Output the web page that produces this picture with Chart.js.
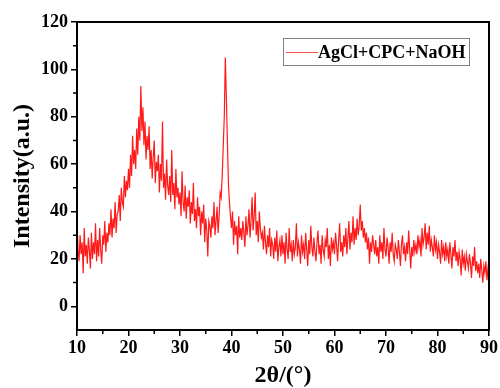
<!DOCTYPE html>
<html>
<head>
<meta charset="utf-8">
<script src="https://cdn.jsdelivr.net/npm/chart.js@4/dist/chart.umd.min.js"></script>
<style>
  html, body { margin: 0; padding: 0; background: #fff; }
  #wrap { width: 500px; height: 388px; position: relative; }
</style>
</head>
<body>
<div id="wrap"><canvas id="xrd"></canvas></div>
<script>
// ── Data (2θ from 10° to 90°, step 0.2°) ──
const seriesName = 'AgCl+CPC+NaOH';
const angleStart = 10;
const angleStep  = 0.2;
const intensity = [
  38, 24, 19, 30, 22, 27, 14, 33, 21, 26,   // 10
  18, 29, 24, 16, 31, 20, 27, 22, 35, 19,   // 12
  28, 21, 33, 24, 18, 30, 26, 36, 23, 31,   // 14
  27, 35, 30, 41, 29, 37, 33, 44, 31, 39,   // 16
  40, 47, 36, 50, 44, 42, 55, 46, 53, 49,   // 18
  58, 50, 64, 55, 72, 60, 66, 58, 75, 64,   // 20
  80, 70, 93, 74, 84, 68, 78, 62, 72, 66,   // 22
  76, 58, 66, 54, 63, 70, 52, 61, 57, 64,   // 24
  48, 60, 53, 78, 50, 56, 45, 62, 51, 47,   // 26
  55, 44, 66, 47, 52, 41, 58, 46, 50, 43,   // 28
  48, 38, 57, 44, 40, 51, 37, 46, 42, 49,   // 30
  35, 44, 39, 52, 36, 41, 33, 46, 38, 42,   // 32
  30, 40, 35, 43, 27, 37, 32, 21, 36, 34,   // 34
  29, 38, 33, 44, 30, 36, 42, 31, 38, 48,   // 36
  46, 55, 68, 80, 105, 88, 70, 52, 44, 38,  // 38
  33, 40, 26, 36, 30, 34, 22, 38, 29, 33,   // 40
  28, 36, 31, 25, 38, 30, 34, 41, 29, 36,   // 42
  46, 32, 38, 48, 30, 36, 27, 40, 33, 29,   // 44
  31, 24, 34, 27, 22, 30, 25, 33, 21, 28,   // 46
  26, 20, 29, 23, 32, 19, 25, 28, 21, 30,   // 48
  22, 27, 18, 31, 24, 20, 33, 23, 26, 19,   // 50
  28, 22, 25, 35, 21, 27, 24, 18, 30, 23,   // 52
  26, 20, 31, 24, 17, 28, 22, 34, 25, 21,   // 54
  29, 23, 19, 27, 32, 22, 26, 18, 30, 24,   // 56
  21, 28, 25, 33, 20, 26, 17, 29, 24, 27,   // 58
  22, 31, 26, 19, 28, 35, 23, 27, 21, 30,   // 60
  25, 33, 22, 29, 36, 24, 31, 27, 38, 26,   // 62
  33, 28, 37, 30, 34, 43, 32, 36, 29, 33,   // 64
  27, 31, 24, 29, 18, 27, 23, 30, 26, 22,   // 66
  28, 21, 25, 18, 30, 23, 27, 20, 33, 24,   // 68
  21, 29, 25, 18, 27, 23, 31, 22, 19, 26,   // 70
  24, 20, 28, 23, 17, 26, 30, 22, 25, 19,   // 72
  27, 22, 32, 24, 16, 25, 21, 28, 23, 26,   // 74
  22, 30, 25, 28, 21, 33, 26, 29, 35, 24,   // 76
  31, 26, 34, 23, 28, 25, 21, 30, 24, 27,   // 78
  20, 26, 23, 18, 28, 22, 25, 19, 27, 21,   // 80
  24, 18, 27, 22, 16, 25, 21, 28, 19, 23,   // 82
  17, 23, 20, 13, 24, 18, 21, 15, 22, 19,   // 84
  16, 22, 18, 12, 21, 17, 25, 15, 19, 14,   // 86
  18, 12, 20, 15, 10, 17, 14, 19, 11, 16,   // 88
  13                                        // 90
];

const xMajorTicks = [10, 20, 30, 40, 50, 60, 70, 80, 90];
const xMinorTicks = [15, 25, 35, 45, 55, 65, 75, 85];
const yMajorTicks = [0, 20, 40, 60, 80, 100, 120];
const yMinorTicks = [10, 30, 50, 70, 90, 110];

const points = intensity.map((v, i) => ({ x: angleStart + i * angleStep, y: v }));

const SERIF = "'Liberation Serif', 'Times New Roman', serif";

// ── Plugins: frame box + minor ticks, legend box in the corner ──
const framePlugin = {
  id: 'frame',
  afterDraw(chart) {
    const { ctx, chartArea: a, scales } = chart;
    ctx.save();
    ctx.strokeStyle = '#000';
    ctx.lineWidth = 2;
    ctx.strokeRect(a.left, a.top, a.right - a.left, a.bottom - a.top);

    ctx.lineWidth = 1.5;
    ctx.beginPath();
    xMinorTicks.forEach(v => {
      const px = scales.x.getPixelForValue(v);
      ctx.moveTo(px, a.bottom); ctx.lineTo(px, a.bottom + 4);
    });
    yMinorTicks.forEach(v => {
      const py = scales.y.getPixelForValue(v);
      ctx.moveTo(a.left, py); ctx.lineTo(a.left - 4, py);
    });
    ctx.stroke();
    ctx.restore();
  }
};

const legendPlugin = {
  id: 'cornerLegend',
  afterDraw(chart) {
    const { ctx } = chart;
    ctx.save();
    ctx.strokeStyle = '#808080';
    ctx.lineWidth = 1;
    ctx.strokeRect(283.5, 38.5, 186, 27);
    ctx.strokeStyle = '#ff5050';
    ctx.beginPath();
    ctx.moveTo(286, 52.5); ctx.lineTo(318, 52.5);
    ctx.stroke();
    ctx.fillStyle = '#000';
    ctx.font = 'bold 18px ' + SERIF;
    ctx.textBaseline = 'middle';
    ctx.textAlign = 'left';
    ctx.fillText(seriesName, 318, 53);
    ctx.restore();
  }
};

new Chart(document.getElementById('xrd'), {
  type: 'line',
  data: {
    datasets: [{
      label: seriesName,
      data: points,
      borderColor: 'rgba(255,0,0,0.9)',
      borderWidth: 1.2,
      pointRadius: 0,
      tension: 0,
      fill: false
    }]
  },
  options: {
    responsive: true,
    maintainAspectRatio: false,
    animation: false,
    layout: { padding: { top: 22, right: 10, left: 0, bottom: 0 } },
    plugins: { legend: { display: false }, tooltip: { enabled: false } },
    scales: {
      x: {
        type: 'linear',
        min: 10, max: 90,
        afterBuildTicks: s => { s.ticks = xMajorTicks.map(v => ({ value: v })); },
        afterFit: s => { s.height = 58; },
        grid: { drawOnChartArea: false, drawTicks: true, tickLength: 6, color: '#000', lineWidth: 1.5 },
        border: { display: true, color: '#000', width: 2 },
        ticks: { color: '#000', padding: 2, maxRotation: 0,
                 font: { family: SERIF, size: 18, weight: 'bold' } },
        title: { display: true, text: '2θ/(°)', color: '#000', padding: { top: 0, bottom: 0 },
                 font: { family: SERIF, size: 24, weight: 'bold', lineHeight: 1 } }
      },
      y: {
        min: -10, max: 120,
        afterBuildTicks: s => { s.ticks = yMajorTicks.map(v => ({ value: v })); },
        afterFit: s => { s.width = 77; },
        grid: { drawOnChartArea: false, drawTicks: true, tickLength: 6, color: '#000', lineWidth: 1.5 },
        border: { display: true, color: '#000', width: 2 },
        ticks: { color: '#000', padding: 3,
                 font: { family: SERIF, size: 18, weight: 'bold' } },
        title: { display: true, text: 'Intensity(a.u.)', color: '#000', padding: { top: 11, bottom: 0 },
                 font: { family: SERIF, size: 24, weight: 'bold', lineHeight: 1 } }
      }
    }
  },
  plugins: [framePlugin, legendPlugin]
});
</script>
</body>
</html>
